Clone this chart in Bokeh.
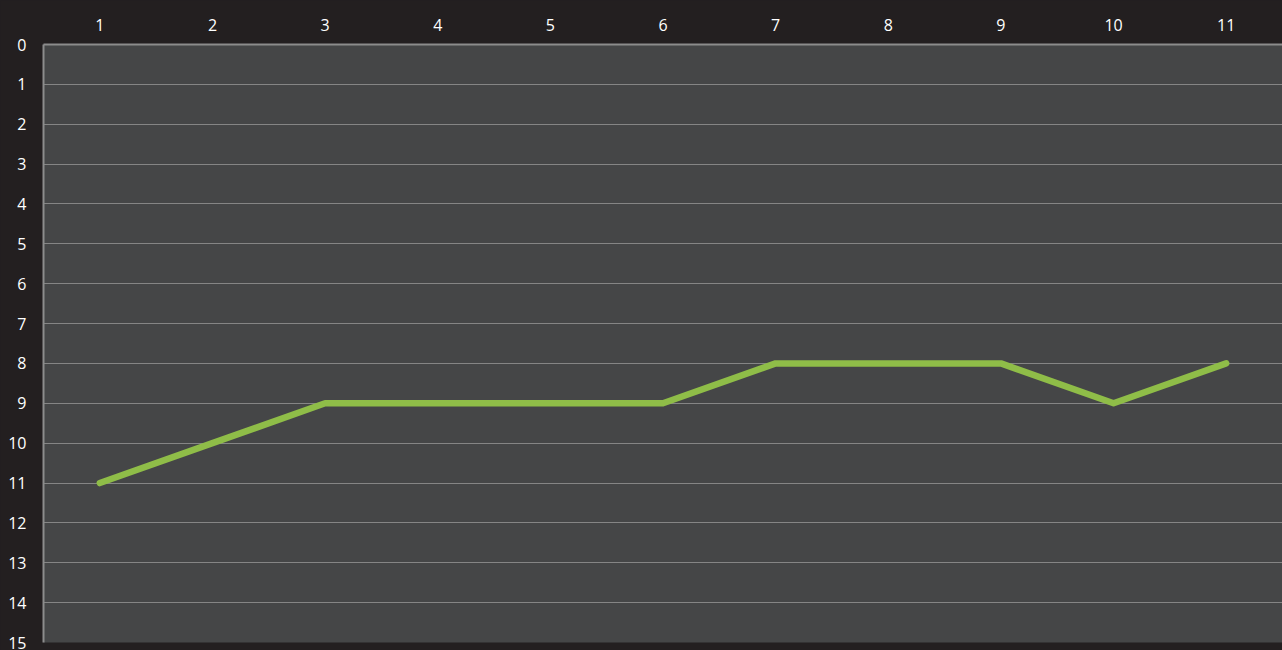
from bokeh.plotting import figure
from bokeh.models import FixedTicker
from bokeh.embed import file_html
from bokeh.resources import INLINE

categories = [1, 2, 3, 4, 5, 6, 7, 8, 9, 10, 11]
values = [11, 10, 9, 9, 9, 9, 8, 8, 8, 9, 8]
y_ticks = list(range(0, 16))

BG = "#231f20"
PLOT_BG = "#454647"
GRID = "#858585"
AXIS = "#8c8c8c"
GREEN = "#8fbd48"
FONT = "Open Sans"

p = figure(width=1282, height=650, x_range=(0.5, 11.5), y_range=(15, 0),
           x_axis_location="above", output_backend="svg", toolbar_location=None,
           min_border_left=43, min_border_top=44, min_border_right=0, min_border_bottom=8)

p.background_fill_color = PLOT_BG
p.border_fill_color = BG
p.outline_line_color = None

p.line(categories, values, line_color=GREEN, line_width=6.5, line_cap="round", line_join="round")

for ax in (p.xaxis[0], p.yaxis[0]):
    ax.axis_line_color = AXIS
    ax.axis_line_width = 2
    ax.major_tick_line_color = None
    ax.minor_tick_line_color = None
    ax.major_tick_out = 0
    ax.major_tick_in = 0
    ax.major_label_text_color = "white"
    ax.major_label_text_font = FONT
    ax.major_label_text_font_size = "16px"

p.xaxis[0].ticker = FixedTicker(ticks=categories)
p.yaxis[0].ticker = FixedTicker(ticks=y_ticks)
p.xaxis[0].major_label_standoff = 14
p.yaxis[0].major_label_standoff = 17

p.xgrid.grid_line_color = None
p.ygrid.ticker = FixedTicker(ticks=y_ticks)
p.ygrid.grid_line_color = GRID
p.ygrid.grid_line_width = 1

html = file_html(p, INLINE)
html = html.replace("<head>", "<head><style>html,body{margin:0;padding:0;background:%s;overflow:hidden;}</style>" % BG, 1)
open("out.html", "w").write(html)
